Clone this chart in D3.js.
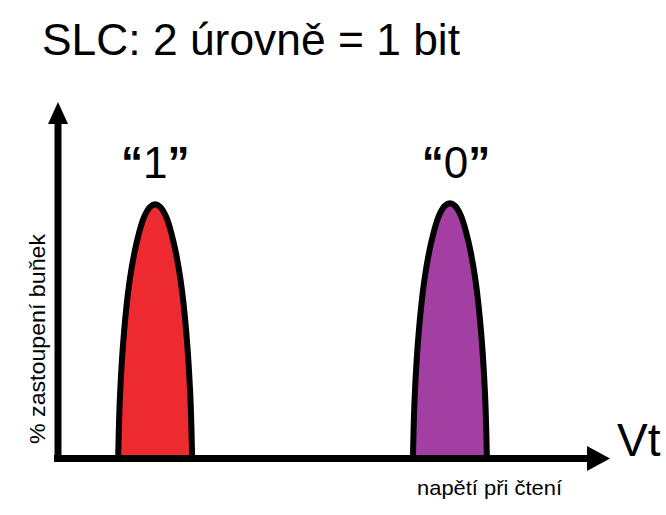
<!DOCTYPE html>
<html>
<head>
<meta charset="utf-8">
<script src="https://cdn.jsdelivr.net/npm/d3@7"></script>
<style>
  html, body { margin: 0; padding: 0; background: #fff; }
  svg { display: block; }
  text { font-family: "Liberation Sans", Arial, Helvetica, sans-serif; fill: #000; }
</style>
</head>
<body>
<script>
// ---- data ----
const title = "SLC: 2 úrovně = 1 bit";
const yAxisLabel = "% zastoupení buňek";
const xAxisLabel = "napětí při čtení";
const xAxisSymbol = "Vt";

const peakLabels = ["1", "0"];           // stored bit
const peakCenters = [17.6, 71.0];        // threshold voltage (arbitrary units 0..100)
const peakHeights = [71.3, 71.6];        // % of cells (arbitrary units 0..100)
const peakHalfWidths = [6.7, 6.7];       // half width of the distribution at the base

// outline profile of one distribution: [fraction of peak height, fraction of half width]
const profileHeight = [0, 0.25, 0.5, 0.7, 0.85, 0.95, 0.99, 1];
const profileWidth  = [1.0, 0.95, 0.84, 0.69, 0.5, 0.3, 0.135, 0];

// ---- styles ----
const peakFill = ["#ED2A2F", "#A33FA3"];

const W = 666, H = 515;
const svg = d3.select("body").append("svg").attr("width", W).attr("height", H);

const x = d3.scaleLinear().domain([0, 100]).range([58, 610]);
const y = d3.scaleLinear().domain([0, 100]).range([458.5, 102]);

// title
svg.append("text").attr("x", 42).attr("y", 55)
  .style("font-size", "44px")
  .attr("textLength", 418).attr("lengthAdjust", "spacingAndGlyphs")
  .text(title);

// peaks
const line = d3.line().x(d => d[0]).y(d => d[1]).curve(d3.curveCatmullRom.alpha(0.5));
peakCenters.forEach((c, i) => {
  const pts = [];
  for (let k = 0; k < profileHeight.length; k++) {
    pts.push([x(c - peakHalfWidths[i] * profileWidth[k]), y(peakHeights[i] * profileHeight[k])]);
  }
  for (let k = profileHeight.length - 2; k >= 0; k--) {
    pts.push([x(c + peakHalfWidths[i] * profileWidth[k]), y(peakHeights[i] * profileHeight[k])]);
  }
  svg.append("path").attr("d", line(pts))
    .attr("fill", peakFill[i]).attr("stroke", "#000")
    .attr("stroke-width", 6).attr("stroke-linejoin", "round");

  const t = svg.append("text")
    .attr("x", x(c) + (i === 1 ? 6 : 0)).attr("y", 178)
    .attr("text-anchor", "middle")
    .style("font-size", "44px");
  t.append("tspan").style("font-weight", "bold").text("“");
  t.append("tspan").text(peakLabels[i]);
  t.append("tspan").style("font-weight", "bold").text("”");
});

// axes
const xr = x.range(), yr = y.range();
svg.append("line").attr("x1", x(0) - 4).attr("x2", xr[1] - 18)
  .attr("y1", y(0)).attr("y2", y(0)).attr("stroke", "#000").attr("stroke-width", 7);
svg.append("path")
  .attr("d", `M${xr[1]},${y(0)} L${xr[1] - 23},${y(0) - 12.5} L${xr[1] - 23},${y(0) + 12.5} Z`)
  .attr("fill", "#000");
svg.append("line").attr("x1", x(0)).attr("x2", x(0))
  .attr("y1", y(0) + 3.5).attr("y2", yr[1] + 18).attr("stroke", "#000").attr("stroke-width", 7);
svg.append("path")
  .attr("d", `M${x(0)},${yr[1]} L${x(0) - 10},${yr[1] + 22} L${x(0) + 10},${yr[1] + 22} Z`)
  .attr("fill", "#000");

// axis labels
svg.append("text").attr("x", 617).attr("y", 456)
  .style("font-size", "46px").text(xAxisSymbol);
svg.append("text").attr("x", 417).attr("y", 495)
  .style("font-size", "21px")
  .attr("textLength", 145).attr("lengthAdjust", "spacingAndGlyphs")
  .text(xAxisLabel);
svg.append("text")
  .attr("transform", "translate(45,339) rotate(-90)")
  .attr("text-anchor", "middle")
  .style("font-size", "22px")
  .attr("textLength", 210).attr("lengthAdjust", "spacingAndGlyphs")
  .text(yAxisLabel);
</script>
</body>
</html>
